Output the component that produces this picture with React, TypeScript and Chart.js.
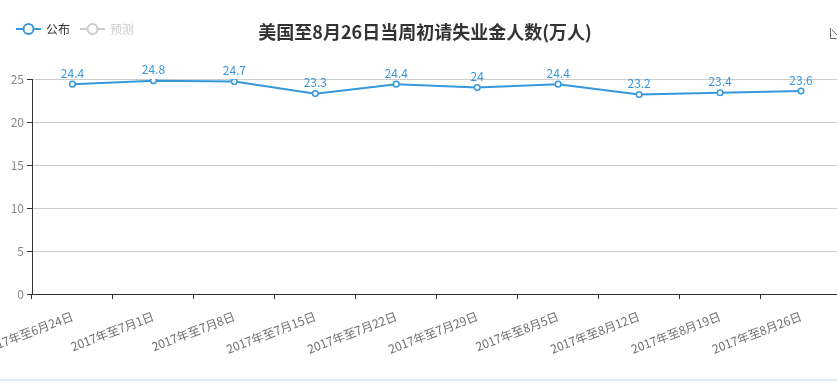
import React, { useEffect, useRef } from 'react';
import { Chart, registerables } from 'chart.js';

Chart.register(...registerables);

const categories = [
  '2017年至6月24日',
  '2017年至7月1日',
  '2017年至7月8日',
  '2017年至7月15日',
  '2017年至7月22日',
  '2017年至7月29日',
  '2017年至8月5日',
  '2017年至8月12日',
  '2017年至8月19日',
  '2017年至8月26日',
];
const published = [24.4, 24.8, 24.7, 23.3, 24.4, 24, 24.4, 23.2, 23.4, 23.6];
const yTickValues = [0, 5, 10, 15, 20, 25];
const legendNames = ['公布', '预测'];
const TITLE = '美国至8月26日当周初请失业金人数(万人)';

const LINE_COLOR = '#3597dc';
const FONT = "'Microsoft YaHei','Noto Sans CJK SC',sans-serif";
const CANVAS_W = 847;

const overlay = {
  id: 'overlay',
  afterDraw(chart: any) {
    const ctx = chart.ctx as CanvasRenderingContext2D;
    ctx.save();
    // title
    ctx.font = `bold 18px ${FONT}`;
    ctx.fillStyle = '#333';
    ctx.textAlign = 'center';
    ctx.textBaseline = 'middle';
    ctx.fillText(TITLE, 425, 32);

    // legend
    const drawItem = (x: number, label: string, color: string, textColor: string) => {
      ctx.strokeStyle = color;
      ctx.lineWidth = 2;
      ctx.beginPath();
      ctx.moveTo(x, 29);
      ctx.lineTo(x + 25, 29);
      ctx.stroke();
      ctx.beginPath();
      ctx.arc(x + 12.5, 29, 5, 0, Math.PI * 2);
      ctx.fillStyle = '#fff';
      ctx.fill();
      ctx.stroke();
      ctx.font = `12px ${FONT}`;
      ctx.fillStyle = textColor;
      ctx.textAlign = 'left';
      ctx.textBaseline = 'middle';
      ctx.fillText(label, x + 30, 29);
    };
    drawItem(16, legendNames[0], LINE_COLOR, '#333');
    drawItem(80, legendNames[1], '#ccc', '#ccc');

    // toolbox icon (partially visible)
    ctx.strokeStyle = '#666';
    ctx.lineWidth = 1;
    ctx.beginPath();
    ctx.moveTo(830.5, 28);
    ctx.lineTo(830.5, 38.5);
    ctx.lineTo(840, 38.5);
    ctx.moveTo(832, 30);
    ctx.lineTo(838, 36);
    ctx.stroke();

    // data labels
    const meta = chart.getDatasetMeta(0);
    ctx.font = `12px ${FONT}`;
    ctx.fillStyle = LINE_COLOR;
    ctx.textAlign = 'center';
    ctx.textBaseline = 'bottom';
    meta.data.forEach((pt: any, i: number) => {
      ctx.fillText(String(published[i]), pt.x, pt.y - 5);
    });

    // bottom border
    ctx.strokeStyle = '#e3edf3';
    ctx.lineWidth = 2;
    ctx.beginPath();
    ctx.moveTo(0, 380);
    ctx.lineTo(CANVAS_W, 380);
    ctx.stroke();
    ctx.restore();
  },
};

export default function App() {
  const ref = useRef<HTMLCanvasElement>(null);
  useEffect(() => {
    if (!ref.current) return;
    const chart = new Chart(ref.current, {
      type: 'line',
      data: {
        labels: categories,
        datasets: [
          {
            label: legendNames[0],
            data: published,
            borderColor: LINE_COLOR,
            backgroundColor: '#fff',
            borderWidth: 2,
            pointRadius: 2.8,
            pointBorderWidth: 1.5,
            pointBackgroundColor: '#fff',
            pointBorderColor: LINE_COLOR,
            tension: 0,
          },
        ],
      },
      options: {
        animation: false,
        responsive: false,
        devicePixelRatio: 1,
        layout: { padding: { top: 79, left: 0, right: 0, bottom: 0 } },
        plugins: {
          legend: { display: false },
          title: { display: false },
          tooltip: { enabled: false },
        },
        scales: {
          x: {
            type: 'category',
            offset: true,
            grid: {
              offset: true,
              drawOnChartArea: false,
              drawTicks: true,
              tickLength: 5,
              tickColor: '#333',
            },
            border: { color: '#333', width: 1 },
            ticks: {
              autoSkip: false,
              maxRotation: 21,
              minRotation: 21,
              color: '#6e6e6e',
              padding: 10,
              font: { size: 12, family: FONT },
            },
            afterFit: (scale: any) => {
              scale.height = 88;
              scale.paddingLeft = 0;
              scale.paddingRight = 0;
            },
          },
          y: {
            min: 0,
            max: 25,
            afterBuildTicks: (scale: any) => {
              scale.ticks = yTickValues.map((v) => ({ value: v }));
            },
            grid: {
              color: '#ccc',
              tickColor: '#333',
              tickLength: 5,
            },
            border: { color: '#333', width: 1 },
            ticks: {
              color: '#888',
              padding: 3,
              font: { size: 12, family: FONT },
            },
            afterFit: (scale: any) => {
              scale.width = 32;
              scale.paddingTop = 0;
              scale.paddingBottom = 0;
            },
          },
        },
      },
      plugins: [overlay],
    });
    return () => chart.destroy();
  }, []);
  return (
    <div style={{ position: 'fixed', left: 0, top: 0, width: 837, height: 382, overflow: 'hidden', background: '#fff' }}>
      <canvas ref={ref} width={CANVAS_W} height={382} style={{ display: 'block', width: CANVAS_W, height: 382 }} />
    </div>
  );
}
